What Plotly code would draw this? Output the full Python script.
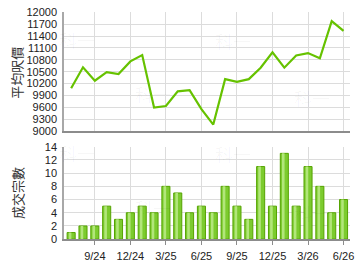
import plotly.graph_objects as go

months = ["7/24","8/24","9/24","10/24","11/24","12/24","1/25","2/25","3/25","4/25","5/25","6/25",
          "7/25","8/25","9/25","10/25","11/25","12/25","1/26","2/26","3/26","4/26","5/26","6/26"]
avg_price = [10080, 10610, 10270, 10490, 10440, 10760, 10920, 9590, 9630, 10000, 10030, 9550,
             9160, 10310, 10240, 10310, 10600, 10990, 10600, 10910, 10970, 10840, 11780, 11530]
volume = [1, 2, 2, 5, 3, 4, 5, 4, 8, 7, 4, 5, 4, 8, 5, 3, 11, 5, 13, 5, 11, 8, 4, 6]
tick_labels = ["9/24", "12/24", "3/25", "6/25", "9/25", "12/25", "3/26", "6/26"]
price_ticks = list(range(9000, 12001, 300))
vol_ticks = list(range(0, 15, 2))

idx = list(range(len(months)))
tick_idx = [months.index(t) for t in tick_labels]

W, H = 360, 270
fig = go.Figure()
fig.add_trace(go.Scatter(x=idx, y=avg_price, mode="lines",
                         line=dict(color="#66c200", width=2.2), xaxis="x", yaxis="y",
                         hoverinfo="skip"))
fig.add_trace(go.Bar(x=idx, y=volume, width=0.68, marker=dict(color="#7ccb2e",
                     line=dict(color="#55a300", width=1)), xaxis="x2", yaxis="y2"))
fig.add_trace(go.Bar(x=idx, y=volume, width=0.22, offset=-0.2,
                     marker=dict(color="#b2e67a", line=dict(width=0)),
                     xaxis="x2", yaxis="y2"))

xr = [-0.58, 23.55]
xdom = [65 / W, 354 / W]
font = dict(family="Liberation Sans, Arial, sans-serif", size=11, color="#222")

axis_common = dict(range=xr, domain=xdom, tickvals=tick_idx, showgrid=True,
                   gridcolor="#dcdcdc", gridwidth=1, zeroline=False, fixedrange=True)

fig.update_layout(
    width=W, height=H, margin=dict(l=0, r=0, t=0, b=0),
    paper_bgcolor="white", plot_bgcolor="white", showlegend=False, barmode="overlay",
    font=font,
    xaxis=dict(**axis_common, anchor="y", showticklabels=False, ticks="",
               showline=True, linecolor="#8c8c8c", linewidth=2),
    yaxis=dict(domain=[1 - 130.7 / H, 1 - 6.7 / H], range=[9000, 12000], tickvals=price_ticks,
               ticktext=[str(v) for v in price_ticks],
               showgrid=True, gridcolor="#dcdcdc", zeroline=False, showline=True,
               linecolor="#a8a8a8", linewidth=2, ticks="", ticklabelstandoff=3),
    xaxis2=dict(**axis_common, anchor="y2", ticktext=tick_labels, ticks="outside",
                ticklen=4, tickcolor="#8c8c8c", showline=True, linecolor="#8c8c8c",
                linewidth=2, ticklabelstandoff=2),
    yaxis2=dict(domain=[1 - 244 / H, 1 - 147.3 / H], range=[0, 14], tickvals=vol_ticks,
                ticktext=[str(v) for v in vol_ticks],
                showgrid=True, gridcolor="#dcdcdc", zeroline=False, showline=True,
                linecolor="#a8a8a8", linewidth=2, ticks="", ticklabelstandoff=3),
)

cjk = "Noto Sans CJK TC"
fig.add_annotation(text="平均呎價", x=17 / W, y=1 - 70 / H, xref="paper", yref="paper",
                   xanchor="center", yanchor="middle",
                   textangle=-90, showarrow=False, font=dict(family=cjk, size=13, color="#333"))
fig.add_annotation(text="成交宗數", x=17 / W, y=1 - 196 / H, xref="paper", yref="paper",
                   xanchor="center", yanchor="middle",
                   textangle=-90, showarrow=False, font=dict(family=cjk, size=13, color="#333"))

for (wx, wy) in [(78, 36), (236, 37), (155, 92), (316, 96), (78, 154), (236, 155), (155, 211), (316, 217)]:
    fig.add_annotation(text="科一", x=wx / W, y=1 - wy / H, xref="paper", yref="paper",
                       xanchor="center", yanchor="middle",
                       showarrow=False, font=dict(family=cjk, size=18, color="rgba(0,0,0,0.035)"))

fig.write_html("out.html")
